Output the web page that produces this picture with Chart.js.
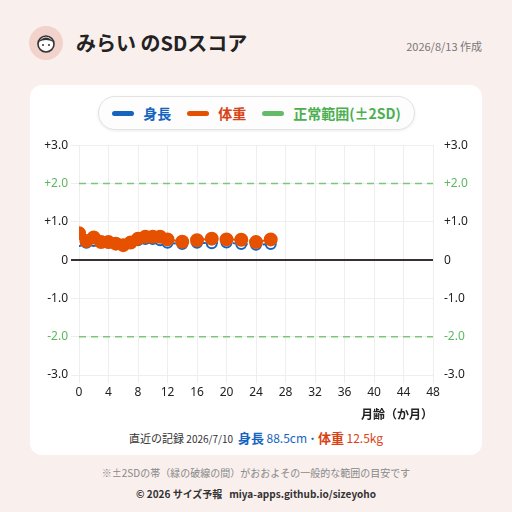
<!DOCTYPE html><html><head><meta charset="utf-8">
<script src="https://cdn.jsdelivr.net/npm/chart.js@4"></script>
<style>
body{margin:0;width:512px;height:512px;background:#f9efed;font-family:"Noto Sans CJK JP","Noto Sans",sans-serif;position:relative;overflow:hidden}
.av{position:absolute;left:29px;top:26px;width:34px;height:34px;border-radius:50%;background:#f2d3cc}
.title{position:absolute;left:76px;top:30px;font-size:20px;font-weight:bold;color:#222;line-height:26px}
.date{position:absolute;right:30px;top:38px;font-size:11px;color:#777}
.card{position:absolute;left:30px;top:85px;width:452px;height:370px;background:#fff;border-radius:12px}
.leg{position:absolute;left:98px;top:96px;width:315px;height:32px;border:1px solid #e3e3e3;border-radius:17px;background:#fdfdfd;box-shadow:0 1px 3px rgba(0,0,0,.08);font-size:14px;font-weight:bold;display:flex;align-items:center;justify-content:center;gap:0}
.leg span{display:inline-flex;align-items:center;margin:0 8px}
.leg i{display:inline-block;width:22px;height:5px;border-radius:3px;margin-right:9px}
canvas{position:absolute;left:30px;top:135px}
.rec{position:absolute;left:0;width:512px;top:428px;text-align:center;font-size:11px;color:#333}
.note{position:absolute;left:0;width:512px;top:465px;text-align:center;font-size:10px;color:#888}
.copy{position:absolute;left:0;width:512px;top:486px;text-align:center;font-size:10px;color:#333;font-weight:bold}
</style></head><body>
<div class="av"><svg width="34" height="34"><circle cx="17" cy="18" r="8" fill="#fff" stroke="#333" stroke-width="1.6"/><path d="M9.5 16 Q17 7 24.5 16 Q17 12 9.5 16Z" fill="#333"/><circle cx="14" cy="19" r="1" fill="#333"/><circle cx="20" cy="19" r="1" fill="#333"/></svg></div>
<div class="title">みらい のSDスコア</div>
<div class="date">2026/8/13 作成</div>
<div class="card"></div>
<div class="leg"><span style="color:#1565c0"><i style="background:#1565c0"></i>身長</span><span style="color:#d84315"><i style="background:#e65100"></i>体重</span><span style="color:#4caf50"><i style="background:#66bb6a"></i>正常範囲(±2SD)</span></div>
<canvas id="c" width="452" height="292"></canvas>
<div class="rec">直近の記録 <span style="font-size:10px">2026/7/10</span>&nbsp; <b style="color:#1565c0;font-size:13px">身長</b> <span style="color:#1565c0;font-size:12px">88.5cm</span><span style="color:#1565c0">・</span><b style="color:#d84315;font-size:13px">体重</b> <span style="color:#d84315;font-size:12px">12.5kg</span></div>
<div class="note">※±2SDの帯（緑の破線の間）がおおよその一般的な範囲の目安です</div>
<div class="copy">© 2026 サイズ予報 &nbsp; miya-apps.github.io/sizeyoho</div>
<script>
const months=[0,1,2,3,4,5,6,7,8,9,10,11,12,14,16,18,20,22,24,26];
const heightSD=[0.50,0.45,0.50,0.48,0.45,0.42,0.40,0.45,0.52,0.55,0.55,0.52,0.45,0.42,0.45,0.44,0.46,0.42,0.40,0.42];
const weightSD=[0.70,0.50,0.59,0.47,0.47,0.43,0.39,0.46,0.56,0.61,0.61,0.61,0.54,0.48,0.52,0.56,0.54,0.53,0.47,0.54];
const yTicks=[-3,-2,-1,0,1,2,3];
const xTicks=[0,4,8,12,16,20,24,28,32,36,40,44,48];
const pts=a=>months.map((m,i)=>({x:m,y:a[i]}));
const green='#5cb85c';
Chart.defaults.font.family='"Noto Sans","Noto Sans CJK JP",sans-serif';
const fmt=v=>v>0?'+'+v.toFixed(1):v===0?'0':v.toFixed(1);
const tc=c=>(Math.abs(c.tick.value)===2?green:'#222');
new Chart(document.getElementById('c'),{type:'scatter',data:{datasets:[
{data:pts(weightSD),showLine:true,borderColor:'#e65100',borderDash:[3,3],borderWidth:2,pointRadius:6,pointBackgroundColor:'#e65100',pointBorderColor:'#e65100'},
{data:pts(heightSD),showLine:true,borderColor:'#1565c0',borderDash:[3,3],borderWidth:2,pointRadius:5,pointBackgroundColor:'#ffffff',pointBorderColor:'#1565c0',pointBorderWidth:2},
{data:[{x:0,y:2},{x:48,y:2}],showLine:true,borderColor:'#7cc67c',borderDash:[7,5],borderWidth:1.5,pointRadius:0},
{data:[{x:0,y:-2},{x:48,y:-2}],showLine:true,borderColor:'#7cc67c',borderDash:[7,5],borderWidth:1.5,pointRadius:0}
]},options:{responsive:false,animation:false,layout:{padding:{top:10}},plugins:{legend:{display:false},tooltip:{enabled:false}},
scales:{x:{type:'linear',min:0,max:48,afterBuildTicks:a=>{a.ticks=xTicks.map(v=>({value:v}))},
ticks:{color:'#222',font:{size:12},padding:2,maxRotation:0},grid:{color:'#eeeeee'},border:{display:false},
title:{display:true,text:'月齢（か月）',align:'end',color:'#222',font:{size:12,weight:'bold'},padding:{top:0}},afterFit:s=>{s.height=52}},
y:{min:-3,max:3,afterBuildTicks:a=>{a.ticks=yTicks.map(v=>({value:v}))},ticks:{callback:fmt,color:tc,font:{size:12}},
grid:{color:c=>c.tick.value===0?'#3a3030':'#eeeeee',lineWidth:c=>c.tick.value===0?2:1},border:{display:false},afterFit:s=>{s.width=49}},
y2:{position:'right',min:-3,max:3,afterBuildTicks:a=>{a.ticks=yTicks.map(v=>({value:v}))},ticks:{callback:fmt,color:tc,font:{size:12}},
grid:{display:false},border:{display:false},afterFit:s=>{s.width=49}}}}});
</script></body></html>
